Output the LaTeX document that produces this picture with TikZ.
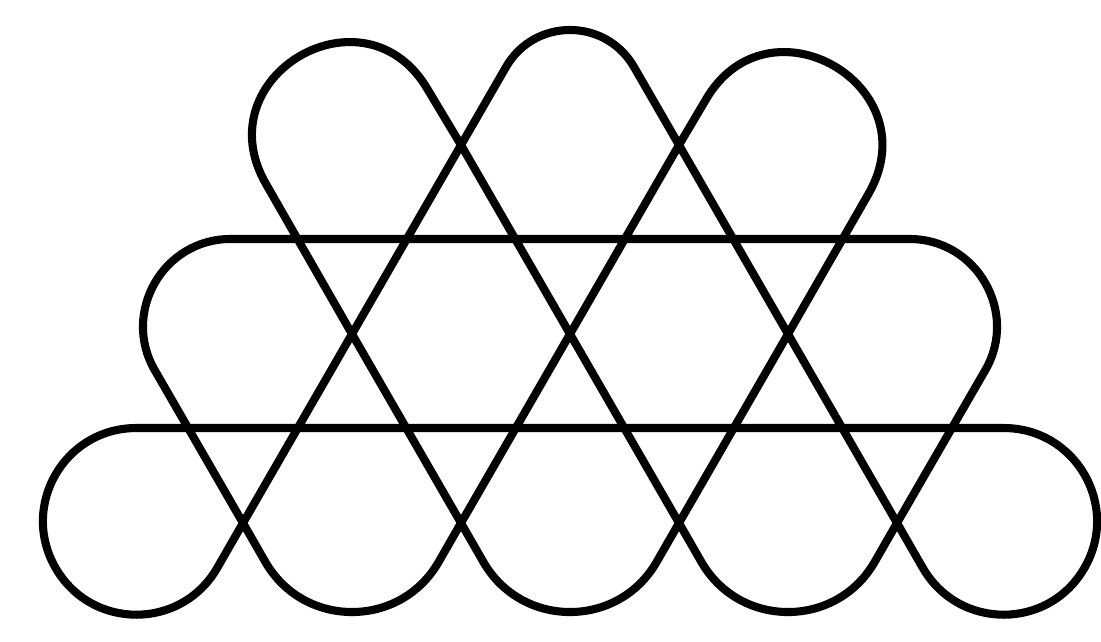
\documentclass[tikz,border=0pt]{standalone}
\tikzset{
  strand/.style={draw=black, line width=2.3pt, line join=round, line cap=round},
}
\begin{document}
\begin{tikzpicture}[x=0.01cm, y=0.01cm]
  \fill[white] (0,0) rectangle (1101,641);
  \useasboundingbox (0,0) rectangle (1101,641);
  % crossings of the slanted lines, top row to bottom row
  \coordinate (c11) at (461,496);
  \coordinate (c12) at (679,496);
  \coordinate (c21) at (352,307);
  \coordinate (c22) at (570,307);
  \coordinate (c23) at (788,307);
  \coordinate (c31) at (243,118);
  \coordinate (c32) at (461,118);
  \coordinate (c33) at (679,118);
  \coordinate (c34) at (897,118);
  % upper strand: upper bar, side loops, two top loops, three bottom arches
  \draw[strand] (230.4,402) -- (909.6,402)
    .. controls +(0:67) and +(60:67) .. (985.3,270.9)
    -- (c34) -- (874.6,79)
    .. controls +(240:77) and +(300:77) .. (701.4,79)
    -- (c33) -- (c22) -- (c11) -- (428,551)
    .. controls +(120:125) and +(120:125) .. (266,457)
    -- (c21) -- (c32) -- (483.4,79)
    .. controls +(300:77) and +(240:77) .. (656.6,79)
    -- (c33) -- (c23) -- (868.4,447)
    .. controls +(60:125) and +(60:125) .. (705.6,541)
    -- (c12) -- (c22) -- (c32) -- (438.6,79)
    .. controls +(240:77) and +(300:77) .. (265.4,79)
    -- (c31) -- (154.7,270.9)
    .. controls +(120:67) and +(180:67) .. (230.4,402) -- cycle;
  % lower strand: lower bar, corner loops, middle top arch
  \draw[strand] (136.4,213) -- (1003.6,213)
    .. controls +(0:72) and +(60:72) .. (1084.4,73.05)
    .. controls +(240:72) and +(300:72) .. (922.8,73.1)
    -- (c34) -- (c23) -- (c12) -- (634,574)
    .. controls +(120:57) and +(60:57) .. (506,574)
    -- (c11) -- (c21) -- (c31) -- (217.2,73.1)
    .. controls +(240:72) and +(300:72) .. (55.6,73.05)
    .. controls +(120:72) and +(180:72) .. (136.4,213) -- cycle;
\end{tikzpicture}
\end{document}
